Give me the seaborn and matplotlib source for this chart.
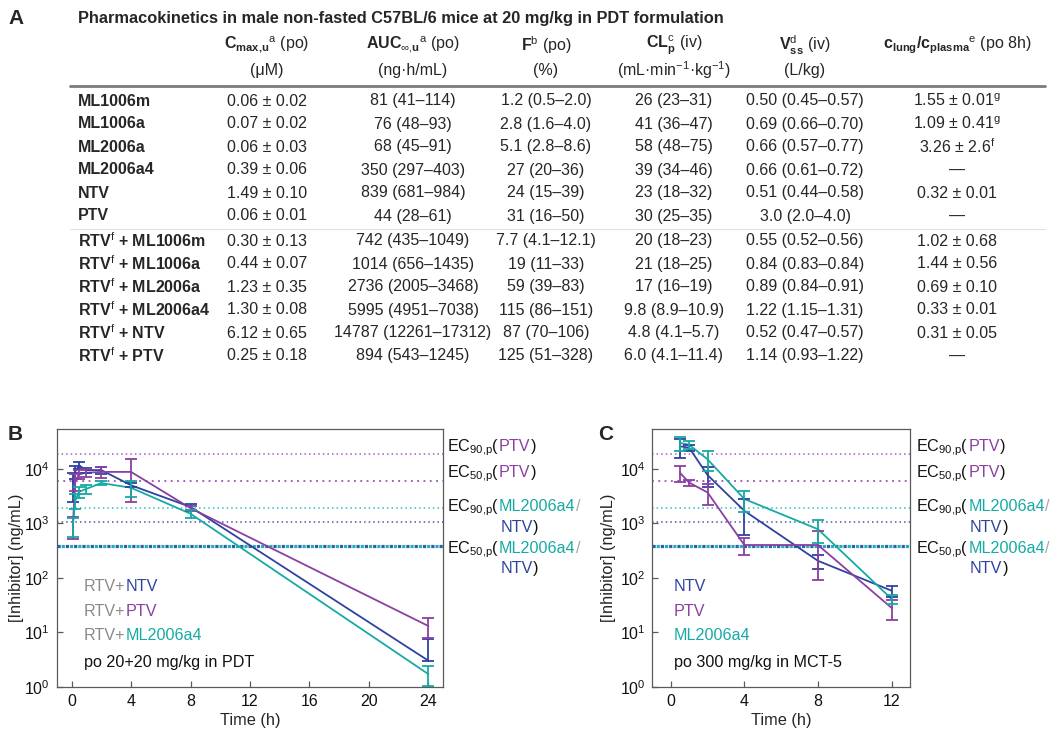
import numpy as np
import pandas as pd
import matplotlib
matplotlib.use("Agg")
import matplotlib.pyplot as plt
import seaborn as sns
from matplotlib.lines import Line2D

sns.set_style("ticks")
plt.rcParams['font.family'] = ['Liberation Sans', 'DejaVu Sans']
plt.rcParams['mathtext.fontset'] = 'custom'
plt.rcParams['mathtext.rm'] = 'Liberation Sans'
plt.rcParams['mathtext.bf'] = 'Liberation Sans:bold'
plt.rcParams['mathtext.it'] = 'Liberation Sans:italic'
plt.rcParams['mathtext.sf'] = 'Liberation Sans'

# ---------------- data: table ----------------
title = "Pharmacokinetics in male non-fasted C57BL/6 mice at 20 mg/kg in PDT formulation"
col_headers = [r"$\mathbf{C}_{\mathbf{max{,}u}}{}^{\mathrm{a}}$ (po)",
               r"$\mathbf{AUC}_{\infty{,}\mathbf{u}}{}^{\mathrm{a}}$ (po)",
               r"$\mathbf{F}^{\mathrm{b}}$ (po)",
               r"$\mathbf{CL}_{\mathbf{p}}^{\mathrm{c}}$ (iv)",
               r"$\mathbf{V}_{\mathbf{ss}}^{\mathrm{d}}$ (iv)",
               r"$\mathbf{c}_{\mathbf{lung}}\mathbf{/c}_{\mathbf{plasma}}{}^{\mathrm{e}}$ (po 8h)"]
col_units = ["(μM)", "(ng·h/mL)", "(%)", r"(mL·min$^{-1}$·kg$^{-1}$)", "(L/kg)", ""]
compounds = ["ML1006m", "ML1006a", "ML2006a", "ML2006a4", "NTV", "PTV",
             r"RTV$^{\mathrm{f}}$ + ML1006m", r"RTV$^{\mathrm{f}}$ + ML1006a",
             r"RTV$^{\mathrm{f}}$ + ML2006a", r"RTV$^{\mathrm{f}}$ + ML2006a4",
             r"RTV$^{\mathrm{f}}$ + NTV", r"RTV$^{\mathrm{f}}$ + PTV"]
cmax = ["0.06 ± 0.02", "0.07 ± 0.02", "0.06 ± 0.03", "0.39 ± 0.06", "1.49 ± 0.10", "0.06 ± 0.01",
        "0.30 ± 0.13", "0.44 ± 0.07", "1.23 ± 0.35", "1.30 ± 0.08", "6.12 ± 0.65", "0.25 ± 0.18"]
auc = ["81 (41–114)", "76 (48–93)", "68 (45–91)", "350 (297–403)", "839 (681–984)", "44 (28–61)",
       "742 (435–1049)", "1014 (656–1435)", "2736 (2005–3468)", "5995 (4951–7038)",
       "14787 (12261–17312)", "894 (543–1245)"]
fbio = ["1.2 (0.5–2.0)", "2.8 (1.6–4.0)", "5.1 (2.8–8.6)", "27 (20–36)", "24 (15–39)", "31 (16–50)",
        "7.7 (4.1–12.1)", "19 (11–33)", "59 (39–83)", "115 (86–151)", "87 (70–106)", "125 (51–328)"]
clp = ["26 (23–31)", "41 (36–47)", "58 (48–75)", "39 (34–46)", "23 (18–32)", "30 (25–35)",
       "20 (18–23)", "21 (18–25)", "17 (16–19)", "9.8 (8.9–10.9)", "4.8 (4.1–5.7)", "6.0 (4.1–11.4)"]
vss = ["0.50 (0.45–0.57)", "0.69 (0.66–0.70)", "0.66 (0.57–0.77)", "0.66 (0.61–0.72)",
       "0.51 (0.44–0.58)", "3.0 (2.0–4.0)", "0.55 (0.52–0.56)", "0.84 (0.83–0.84)",
       "0.89 (0.84–0.91)", "1.22 (1.15–1.31)", "0.52 (0.47–0.57)", "1.14 (0.93–1.22)"]
clung = [r"1.55 ± 0.01$^{\mathrm{g}}$", r"1.09 ± 0.41$^{\mathrm{g}}$", r"3.26 ± 2.6$^{\mathrm{f}}$",
         "—", "0.32 ± 0.01", "—", "1.02 ± 0.68", "1.44 ± 0.56", "0.69 ± 0.10",
         "0.33 ± 0.01", "0.31 ± 0.05", "—"]

# ---------------- data: panel B ----------------
t_B = [0.083, 0.25, 0.5, 1, 2, 4, 8, 24]
ntv_B = [5500, 9000, 11500, 9500, 9500, 5000, 2000, 3.0]
ntv_B_sd = [3000, 2500, 1700, 1000, 1500, 400, 250, 4.5]
ptv_B = [900, 6000, 8000, 8500, 8800, 8800, 1900, 13]
ptv_B_sd = [390, 2000, 1500, 1500, 2000, 6300, 200, 5.3]
ml_B = [900, 2600, 3800, 4300, 5500, 4500, 1500, 1.7]
ml_B_sd = [340, 800, 900, 800, 500, 1500, 250, 0.65]

# ---------------- data: panel C ----------------
t_C = [0.5, 1, 2, 4, 8, 12]
ntv_C = [26000, 24500, 7700, 1700, 205, 58]
ntv_C_sd = [10000, 3000, 3000, 1100, 60, 14]
ptv_C = [8500, 5600, 3700, 400, 400, 28]
ptv_C_sd = [2700, 700, 1500, 140, 310, 11]
ml_C = [30000, 27700, 15000, 2800, 780, 41]
ml_C_sd = [9000, 5000, 6000, 1200, 350, 8]

# reference concentrations (ng/mL)
ec90_ptv = 19000
ec50_ptv = 6000
ec90_ml = 1950
ec90_ntv = 1080
ec50_ml_ntv = 390

# ---------------- style ----------------
C_NTV = "#2e43a0"
C_PTV = "#8b3fa3"
C_ML = "#16aaa3"
C_GRAY = "#8a8a8a"
W, H = 1050, 729

fig = plt.figure(figsize=(10.5, 7.29), dpi=100)
renderer = fig.canvas.get_renderer()


def fx(x):
    return x / W


def fy(y):
    return 1 - y / H


def seg_text(x, y, parts, size=12, **kw):
    for s, c in parts:
        t = fig.text(fx(x), fy(y), s, color=c, fontsize=size, ha='left', va='baseline', **kw)
        x += t.get_window_extent(renderer).width
    return x


# ---------------- Panel A: table ----------------
fig.text(fx(8), fy(18), "A", fontsize=15, fontweight='bold', va='center', ha='left')
fig.text(fx(78), fy(18), title, fontsize=11.8, fontweight='bold', va='center', ha='left')
col_x = [267, 413, 546, 674, 805, 957]
for cx, h, u in zip(col_x, col_headers, col_units):
    fig.text(fx(cx), fy(45), h, fontsize=11.5, ha='center', va='center')
    if u:
        fig.text(fx(cx), fy(70), u, fontsize=11.5, ha='center', va='center')
fig.add_artist(Line2D([fx(70), fx(1045)], [fy(86), fy(86)], color="#7a7a7a", lw=2.0))
fig.add_artist(Line2D([fx(70), fx(1045)], [fy(229), fy(229)], color="#e2e2e2", lw=0.8))
row_y = [101, 124, 147, 170, 193, 216, 241, 264, 287, 310, 333, 356]
for i, ry in enumerate(row_y):
    fig.text(fx(78), fy(ry), compounds[i], fontsize=11.5, fontweight='bold', ha='left', va='center')
    for cx, col in zip(col_x, [cmax, auc, fbio, clp, vss, clung]):
        fig.text(fx(cx), fy(ry), col[i], fontsize=11.5, ha='center', va='center')

# ---------------- Panels B and C ----------------
axB = fig.add_axes([fx(56.7), fy(686.7), (443.3 - 56.7) / W, (686.7 - 429) / H])
axC = fig.add_axes([fx(652.3), fy(686.7), (910 - 652.3) / W, (686.7 - 429) / H])


def panel(ax, t, series, xlim, xticks):
    ax.set_yscale('log')
    # reference lines
    ax.axhline(ec90_ptv, color="#a85cc0", lw=1.1, ls=(0, (1, 2)))
    ax.axhline(ec50_ptv, color="#9a4fb5", lw=1.3, ls=(0, (1, 2.5)))
    ax.axhline(ec90_ml, color="#2fc0bd", lw=1.1, ls=(0, (1, 2)))
    ax.axhline(ec90_ntv, color="#4a5aa8", lw=1.1, ls=(0, (1, 2)))
    ax.axhline(ec50_ml_ntv, color="#2e5fa8", lw=2.3, ls=(0, (1, 1.6)))
    ax.axhline(ec50_ml_ntv, color="#22b0b8", lw=2.3, ls=(1.3, (1, 1.6)))
    frames = []
    for name, vals, sd, col in series:
        frames.append(pd.DataFrame({"time": t, "conc": vals, "drug": name}))
    df = pd.concat(frames, ignore_index=True)
    pal = {name: col for name, vals, sd, col in series}
    sns.lineplot(data=df, x="time", y="conc", hue="drug", palette=pal, lw=1.3,
                 legend=False, ax=ax, sort=True, estimator=None)
    for name, vals, sd, col in series:
        v = np.array(vals, float)
        s = np.array(sd, float)
        lo = np.where(s >= v, 0.0, s)
        ax.errorbar(t, v, yerr=[lo, s], fmt='none', ecolor=col, elinewidth=1.3,
                    capsize=4, capthick=1.3)
    ax.set_xlim(*xlim)
    ax.set_ylim(1, 5.4e4)
    ax.set_xticks(xticks)
    ax.set_yticks([1, 10, 100, 1000, 10000])
    ax.yaxis.set_minor_locator(matplotlib.ticker.NullLocator())
    ax.set_xlabel("")
    ax.set_ylabel("")
    for sp in ax.spines.values():
        sp.set_visible(True)
        sp.set_color("#5a5a5a")
        sp.set_linewidth(0.9)
    ax.tick_params(direction='in', length=4, width=0.9, labelsize=11.5, pad=5,
                   color="#5a5a5a", labelcolor="#111111")
    ax.set_facecolor("white")


panel(axB, t_B, [("NTV", ntv_B, ntv_B_sd, C_NTV), ("PTV", ptv_B, ptv_B_sd, C_PTV),
                 ("ML2006a4", ml_B, ml_B_sd, C_ML)], (-1, 25), [0, 4, 8, 12, 16, 20, 24])
panel(axC, t_C, [("NTV", ntv_C, ntv_C_sd, C_NTV), ("PTV", ptv_C, ptv_C_sd, C_PTV),
                 ("ML2006a4", ml_C, ml_C_sd, C_ML)], (-1, 13), [0, 4, 8, 12])

# panel letters and axis labels
fig.text(fx(15), fy(434), "B", fontsize=15, fontweight='bold', ha='center', va='center')
fig.text(fx(606), fy(434), "C", fontsize=15, fontweight='bold', ha='center', va='center')
for yl_x, xl_x in [(17, 250), (609, 781)]:
    fig.text(fx(yl_x), fy(558), "[Inhibitor] (ng/mL)", fontsize=11.8, rotation=90,
             ha='center', va='center')
    fig.text(fx(xl_x), fy(720), "Time (h)", fontsize=11.8, ha='center', va='center')

# in-panel legends
LS = 11.6
seg_text(84, 591, [("RTV+", C_GRAY), ("NTV", C_NTV)], LS)
seg_text(84, 616, [("RTV+", C_GRAY), ("PTV", C_PTV)], LS)
seg_text(84, 640, [("RTV+", C_GRAY), ("ML2006a4", C_ML)], LS)
seg_text(84, 667, [("po 20+20 mg/kg in PDT", "#111111")], LS)
seg_text(674, 591, [("NTV", C_NTV)], LS)
seg_text(674, 616, [("PTV", C_PTV)], LS)
seg_text(674, 640, [("ML2006a4", C_ML)], LS)
seg_text(674, 667, [("po 300 mg/kg in MCT-5", "#111111")], LS)

# right-side EC labels
for x0 in [446.7, 916]:
    seg_text(x0, 451, [(r"EC$_{90{,}\mathrm{p}}$(", "#111111"), ("PTV", C_PTV), (")", "#111111")], LS)
    seg_text(x0, 477, [(r"EC$_{50{,}\mathrm{p}}$(", "#111111"), ("PTV", C_PTV), (")", "#111111")], LS)
    seg_text(x0, 511, [(r"EC$_{90{,}\mathrm{p}}$(", "#111111"), ("ML2006a4", C_ML), ("/", "#a0a8a8")], LS)
    seg_text(x0 + 54, 532, [("NTV", C_NTV), (")", "#111111")], LS)
    seg_text(x0, 553, [(r"EC$_{50{,}\mathrm{p}}$(", "#111111"), ("ML2006a4", C_ML), ("/", "#a0a8a8")], LS)
    seg_text(x0 + 54, 573, [("NTV", C_NTV), (")", "#111111")], LS)

fig.savefig("out.png", dpi=100, facecolor="white")
